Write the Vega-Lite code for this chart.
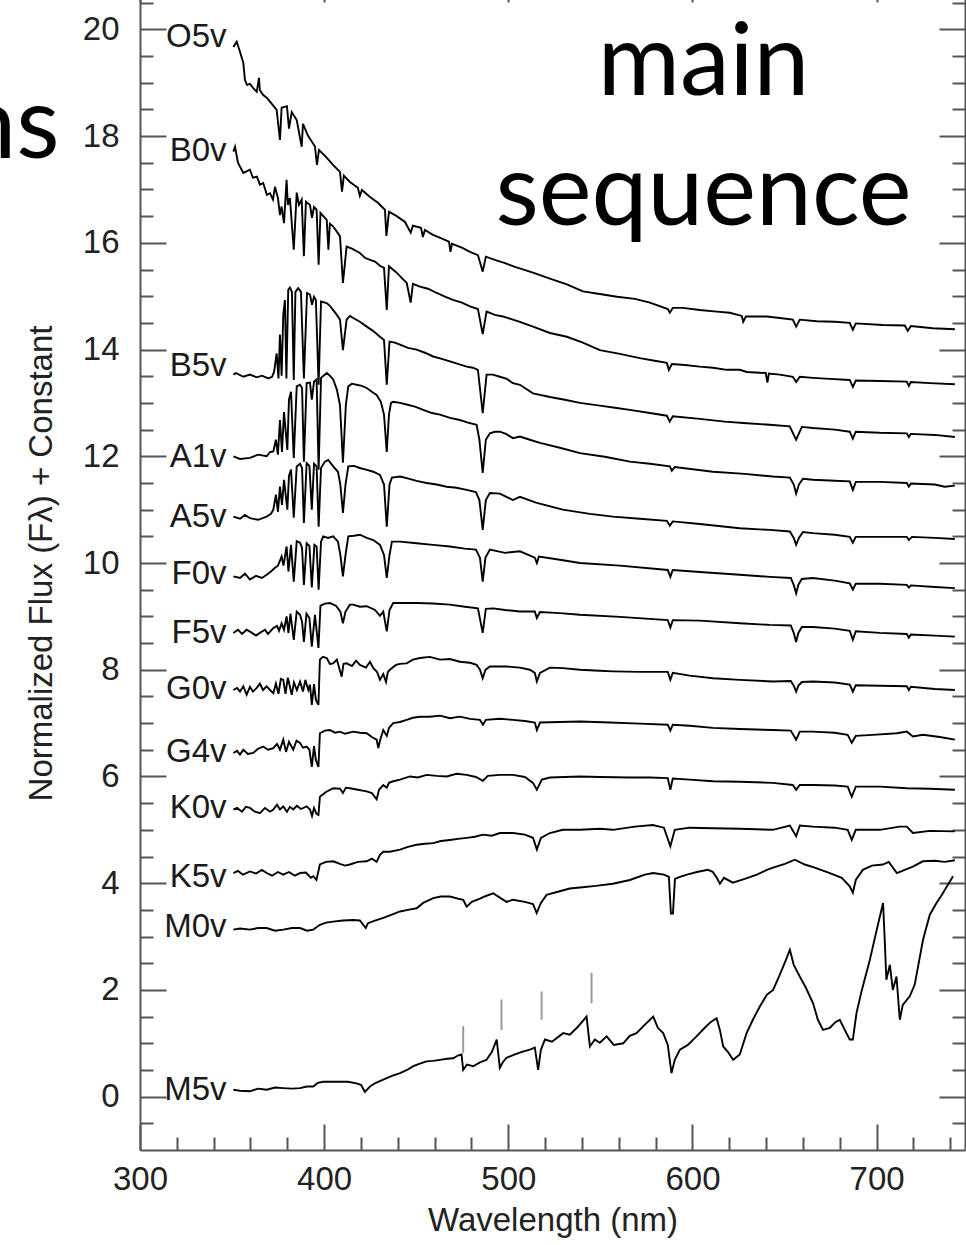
{
"$schema": "https://vega.github.io/schema/vega-lite/v6.json",
"width": 825,
"height": 1174,
"autosize": "none",
"padding": {"left": 140, "top": -24, "right": 1, "bottom": 95},
"background": "white",
"config": {
  "view": {"stroke": null},
  "axis": {"labelFont": "Liberation Sans", "titleFont": "Liberation Sans", "labelFontSize": 33, "titleFontSize": 33, "titleFontWeight": "normal", "labelColor": "#222", "titleColor": "#222", "domainColor": "#555", "domainWidth": 2, "tickColor": "#555", "tickWidth": 2, "grid": false}
},
"datasets": {
"spectra": [
{"s":"O5v","w":350.7,"f":19.67},{"s":"O5v","w":352.5,"f":19.77},{"s":"O5v","w":354.3,"f":19.58},{"s":"O5v","w":356.1,"f":19.37},{"s":"O5v","w":357.0,"f":19.05},{"s":"O5v","w":358.1,"f":18.96},{"s":"O5v","w":359.7,"f":18.98},{"s":"O5v","w":361.5,"f":18.90},{"s":"O5v","w":363.4,"f":18.83},{"s":"O5v","w":364.6,"f":19.09},{"s":"O5v","w":365.1,"f":18.86},{"s":"O5v","w":366.9,"f":18.77},{"s":"O5v","w":368.8,"f":18.72},{"s":"O5v","w":371.7,"f":18.60},{"s":"O5v","w":374.2,"f":18.49},{"s":"O5v","w":376.0,"f":17.93},{"s":"O5v","w":376.9,"f":18.53},{"s":"O5v","w":379.8,"f":18.56},{"s":"O5v","w":380.9,"f":18.14},{"s":"O5v","w":382.4,"f":18.45},{"s":"O5v","w":385.1,"f":18.30},{"s":"O5v","w":387.8,"f":17.80},{"s":"O5v","w":388.5,"f":18.23},{"s":"O5v","w":391.2,"f":18.01},{"s":"O5v","w":393.4,"f":17.89},{"s":"O5v","w":395.0,"f":17.81},{"s":"O5v","w":396.1,"f":17.46},{"s":"O5v","w":397.2,"f":17.74},{"s":"O5v","w":401.0,"f":17.61},{"s":"O5v","w":404.8,"f":17.46},{"s":"O5v","w":408.6,"f":17.33},{"s":"O5v","w":409.7,"f":16.96},{"s":"O5v","w":410.7,"f":17.26},{"s":"O5v","w":414.0,"f":17.14},{"s":"O5v","w":418.3,"f":17.03},{"s":"O5v","w":419.4,"f":16.88},{"s":"O5v","w":420.5,"f":16.99},{"s":"O5v","w":424.9,"f":16.86},{"s":"O5v","w":429.2,"f":16.75},{"s":"O5v","w":433.0,"f":16.62},{"s":"O5v","w":433.8,"f":16.13},{"s":"O5v","w":435.2,"f":16.58},{"s":"O5v","w":439.0,"f":16.51},{"s":"O5v","w":443.9,"f":16.39},{"s":"O5v","w":447.0,"f":16.19},{"s":"O5v","w":448.2,"f":16.32},{"s":"O5v","w":452.6,"f":16.28},{"s":"O5v","w":453.6,"f":16.11},{"s":"O5v","w":454.7,"f":16.24},{"s":"O5v","w":459.1,"f":16.15},{"s":"O5v","w":463.4,"f":16.09},{"s":"O5v","w":467.8,"f":16.02},{"s":"O5v","w":468.6,"f":15.83},{"s":"O5v","w":469.4,"f":15.98},{"s":"O5v","w":474.8,"f":15.91},{"s":"O5v","w":479.2,"f":15.83},{"s":"O5v","w":483.5,"f":15.77},{"s":"O5v","w":486.1,"f":15.46},{"s":"O5v","w":487.8,"f":15.74},{"s":"O5v","w":492.7,"f":15.68},{"s":"O5v","w":498.2,"f":15.62},{"s":"O5v","w":503.6,"f":15.55},{"s":"O5v","w":513.4,"f":15.44},{"s":"O5v","w":522.6,"f":15.33},{"s":"O5v","w":531.8,"f":15.22},{"s":"O5v","w":540.5,"f":15.09},{"s":"O5v","w":549.7,"f":15.04},{"s":"O5v","w":559.0,"f":14.99},{"s":"O5v","w":568.7,"f":14.95},{"s":"O5v","w":576.9,"f":14.88},{"s":"O5v","w":586.6,"f":14.76},{"s":"O5v","w":587.7,"f":14.69},{"s":"O5v","w":589.3,"f":14.78},{"s":"O5v","w":594.8,"f":14.78},{"s":"O5v","w":604.0,"f":14.74},{"s":"O5v","w":613.2,"f":14.71},{"s":"O5v","w":620.3,"f":14.69},{"s":"O5v","w":626.8,"f":14.63},{"s":"O5v","w":627.6,"f":14.52},{"s":"O5v","w":629.0,"f":14.62},{"s":"O5v","w":640.4,"f":14.62},{"s":"O5v","w":647.4,"f":14.59},{"s":"O5v","w":654.5,"f":14.56},{"s":"O5v","w":656.3,"f":14.43},{"s":"O5v","w":658.3,"f":14.56},{"s":"O5v","w":667.5,"f":14.53},{"s":"O5v","w":677.3,"f":14.52},{"s":"O5v","w":685.4,"f":14.50},{"s":"O5v","w":687.1,"f":14.37},{"s":"O5v","w":688.7,"f":14.49},{"s":"O5v","w":703.4,"f":14.46},{"s":"O5v","w":715.3,"f":14.45},{"s":"O5v","w":716.9,"f":14.35},{"s":"O5v","w":718.6,"f":14.44},{"s":"O5v","w":730.5,"f":14.40},{"s":"O5v","w":742.5,"f":14.38},
{"s":"B0v","w":350.7,"f":17.71},{"s":"B0v","w":351.6,"f":17.80},{"s":"B0v","w":353.2,"f":17.50},{"s":"B0v","w":356.1,"f":17.31},{"s":"B0v","w":359.7,"f":17.37},{"s":"B0v","w":361.3,"f":17.22},{"s":"B0v","w":363.5,"f":17.24},{"s":"B0v","w":365.1,"f":17.09},{"s":"B0v","w":366.9,"f":17.12},{"s":"B0v","w":368.9,"f":16.90},{"s":"B0v","w":370.6,"f":16.93},{"s":"B0v","w":372.2,"f":16.81},{"s":"B0v","w":373.3,"f":17.05},{"s":"B0v","w":374.9,"f":16.84},{"s":"B0v","w":376.0,"f":16.52},{"s":"B0v","w":376.9,"f":16.68},{"s":"B0v","w":378.2,"f":16.37},{"s":"B0v","w":379.6,"f":17.18},{"s":"B0v","w":380.3,"f":16.71},{"s":"B0v","w":381.4,"f":16.84},{"s":"B0v","w":383.5,"f":15.87},{"s":"B0v","w":385.1,"f":16.94},{"s":"B0v","w":386.3,"f":16.71},{"s":"B0v","w":387.8,"f":16.81},{"s":"B0v","w":389.0,"f":15.75},{"s":"B0v","w":390.1,"f":16.77},{"s":"B0v","w":392.3,"f":16.71},{"s":"B0v","w":393.4,"f":16.47},{"s":"B0v","w":394.5,"f":16.67},{"s":"B0v","w":395.9,"f":16.62},{"s":"B0v","w":397.0,"f":15.59},{"s":"B0v","w":398.0,"f":16.56},{"s":"B0v","w":401.4,"f":16.43},{"s":"B0v","w":402.3,"f":15.87},{"s":"B0v","w":403.1,"f":16.36},{"s":"B0v","w":404.8,"f":16.31},{"s":"B0v","w":406.9,"f":16.21},{"s":"B0v","w":408.6,"f":16.12},{"s":"B0v","w":410.2,"f":15.25},{"s":"B0v","w":412.2,"f":15.93},{"s":"B0v","w":415.1,"f":15.89},{"s":"B0v","w":419.4,"f":15.81},{"s":"B0v","w":422.1,"f":15.72},{"s":"B0v","w":424.9,"f":15.68},{"s":"B0v","w":427.6,"f":15.65},{"s":"B0v","w":430.3,"f":15.57},{"s":"B0v","w":432.5,"f":15.53},{"s":"B0v","w":434.0,"f":14.74},{"s":"B0v","w":435.2,"f":15.56},{"s":"B0v","w":439.4,"f":15.44},{"s":"B0v","w":442.2,"f":15.34},{"s":"B0v","w":444.8,"f":15.25},{"s":"B0v","w":447.0,"f":14.88},{"s":"B0v","w":448.2,"f":15.23},{"s":"B0v","w":452.0,"f":15.18},{"s":"B0v","w":456.4,"f":15.14},{"s":"B0v","w":461.1,"f":15.06},{"s":"B0v","w":465.6,"f":14.99},{"s":"B0v","w":469.9,"f":14.93},{"s":"B0v","w":474.8,"f":14.88},{"s":"B0v","w":479.2,"f":14.81},{"s":"B0v","w":483.5,"f":14.76},{"s":"B0v","w":486.1,"f":14.29},{"s":"B0v","w":488.2,"f":14.71},{"s":"B0v","w":492.7,"f":14.65},{"s":"B0v","w":497.1,"f":14.62},{"s":"B0v","w":502.5,"f":14.56},{"s":"B0v","w":506.3,"f":14.52},{"s":"B0v","w":513.4,"f":14.43},{"s":"B0v","w":522.6,"f":14.31},{"s":"B0v","w":531.8,"f":14.24},{"s":"B0v","w":540.5,"f":14.13},{"s":"B0v","w":549.7,"f":13.99},{"s":"B0v","w":560.6,"f":13.92},{"s":"B0v","w":571.4,"f":13.84},{"s":"B0v","w":579.5,"f":13.79},{"s":"B0v","w":586.1,"f":13.75},{"s":"B0v","w":587.2,"f":13.62},{"s":"B0v","w":588.8,"f":13.73},{"s":"B0v","w":595.8,"f":13.71},{"s":"B0v","w":604.0,"f":13.68},{"s":"B0v","w":611.1,"f":13.66},{"s":"B0v","w":618.7,"f":13.62},{"s":"B0v","w":625.7,"f":13.62},{"s":"B0v","w":629.5,"f":13.58},{"s":"B0v","w":639.8,"f":13.56},{"s":"B0v","w":640.7,"f":13.38},{"s":"B0v","w":641.5,"f":13.55},{"s":"B0v","w":647.4,"f":13.53},{"s":"B0v","w":654.5,"f":13.49},{"s":"B0v","w":656.3,"f":13.39},{"s":"B0v","w":658.3,"f":13.49},{"s":"B0v","w":665.4,"f":13.47},{"s":"B0v","w":674.6,"f":13.45},{"s":"B0v","w":685.4,"f":13.43},{"s":"B0v","w":687.1,"f":13.30},{"s":"B0v","w":688.7,"f":13.42},{"s":"B0v","w":701.7,"f":13.41},{"s":"B0v","w":716.4,"f":13.40},{"s":"B0v","w":717.5,"f":13.32},{"s":"B0v","w":718.6,"f":13.39},{"s":"B0v","w":728.9,"f":13.37},{"s":"B0v","w":742.5,"f":13.35},
{"s":"B5v","w":350.7,"f":13.53},{"s":"B5v","w":352.1,"f":13.56},{"s":"B5v","w":356.1,"f":13.49},{"s":"B5v","w":359.7,"f":13.53},{"s":"B5v","w":363.4,"f":13.48},{"s":"B5v","w":366.2,"f":13.51},{"s":"B5v","w":369.7,"f":13.46},{"s":"B5v","w":371.7,"f":13.49},{"s":"B5v","w":372.8,"f":13.58},{"s":"B5v","w":374.2,"f":13.93},{"s":"B5v","w":375.2,"f":13.46},{"s":"B5v","w":376.0,"f":14.28},{"s":"B5v","w":376.9,"f":13.51},{"s":"B5v","w":377.8,"f":14.65},{"s":"B5v","w":378.7,"f":14.93},{"s":"B5v","w":379.5,"f":13.46},{"s":"B5v","w":380.5,"f":15.12},{"s":"B5v","w":381.4,"f":15.16},{"s":"B5v","w":382.5,"f":15.08},{"s":"B5v","w":383.5,"f":13.43},{"s":"B5v","w":384.4,"f":15.08},{"s":"B5v","w":385.9,"f":15.15},{"s":"B5v","w":387.4,"f":15.08},{"s":"B5v","w":389.0,"f":13.46},{"s":"B5v","w":390.7,"f":15.06},{"s":"B5v","w":392.3,"f":15.03},{"s":"B5v","w":393.4,"f":14.84},{"s":"B5v","w":394.5,"f":14.99},{"s":"B5v","w":395.5,"f":14.93},{"s":"B5v","w":397.0,"f":13.34},{"s":"B5v","w":398.3,"f":14.90},{"s":"B5v","w":401.4,"f":14.87},{"s":"B5v","w":403.1,"f":14.82},{"s":"B5v","w":404.9,"f":14.74},{"s":"B5v","w":406.9,"f":14.65},{"s":"B5v","w":408.6,"f":14.56},{"s":"B5v","w":410.2,"f":13.99},{"s":"B5v","w":412.2,"f":14.56},{"s":"B5v","w":414.0,"f":14.63},{"s":"B5v","w":415.8,"f":14.59},{"s":"B5v","w":419.4,"f":14.52},{"s":"B5v","w":423.1,"f":14.43},{"s":"B5v","w":426.5,"f":14.35},{"s":"B5v","w":430.3,"f":14.24},{"s":"B5v","w":432.5,"f":14.18},{"s":"B5v","w":434.0,"f":13.34},{"s":"B5v","w":435.5,"f":14.15},{"s":"B5v","w":438.4,"f":14.13},{"s":"B5v","w":441.2,"f":14.09},{"s":"B5v","w":445.5,"f":14.03},{"s":"B5v","w":450.2,"f":14.00},{"s":"B5v","w":454.7,"f":13.94},{"s":"B5v","w":459.2,"f":13.87},{"s":"B5v","w":463.4,"f":13.83},{"s":"B5v","w":468.3,"f":13.78},{"s":"B5v","w":472.6,"f":13.73},{"s":"B5v","w":477.4,"f":13.68},{"s":"B5v","w":480.8,"f":13.66},{"s":"B5v","w":483.5,"f":13.62},{"s":"B5v","w":486.1,"f":12.81},{"s":"B5v","w":488.2,"f":13.53},{"s":"B5v","w":491.6,"f":13.53},{"s":"B5v","w":495.4,"f":13.49},{"s":"B5v","w":499.2,"f":13.45},{"s":"B5v","w":502.5,"f":13.37},{"s":"B5v","w":506.3,"f":13.34},{"s":"B5v","w":513.4,"f":13.18},{"s":"B5v","w":522.6,"f":13.11},{"s":"B5v","w":530.7,"f":13.06},{"s":"B5v","w":538.9,"f":13.00},{"s":"B5v","w":549.7,"f":12.95},{"s":"B5v","w":557.9,"f":12.91},{"s":"B5v","w":566.0,"f":12.87},{"s":"B5v","w":576.9,"f":12.81},{"s":"B5v","w":586.1,"f":12.76},{"s":"B5v","w":587.7,"f":12.65},{"s":"B5v","w":589.3,"f":12.75},{"s":"B5v","w":604.0,"f":12.70},{"s":"B5v","w":617.5,"f":12.65},{"s":"B5v","w":629.5,"f":12.62},{"s":"B5v","w":642.0,"f":12.59},{"s":"B5v","w":652.8,"f":12.56},{"s":"B5v","w":656.3,"f":12.31},{"s":"B5v","w":659.4,"f":12.55},{"s":"B5v","w":665.4,"f":12.53},{"s":"B5v","w":677.3,"f":12.50},{"s":"B5v","w":685.4,"f":12.46},{"s":"B5v","w":687.1,"f":12.33},{"s":"B5v","w":688.7,"f":12.46},{"s":"B5v","w":701.7,"f":12.44},{"s":"B5v","w":716.4,"f":12.43},{"s":"B5v","w":717.5,"f":12.36},{"s":"B5v","w":718.6,"f":12.42},{"s":"B5v","w":731.6,"f":12.40},{"s":"B5v","w":742.5,"f":12.36},
{"s":"A1v","w":350.7,"f":12.00},{"s":"A1v","w":354.3,"f":11.95},{"s":"A1v","w":359.7,"f":11.97},{"s":"A1v","w":364.1,"f":12.03},{"s":"A1v","w":368.8,"f":12.00},{"s":"A1v","w":370.6,"f":12.08},{"s":"A1v","w":372.4,"f":12.09},{"s":"A1v","w":373.8,"f":12.31},{"s":"A1v","w":374.9,"f":12.03},{"s":"A1v","w":376.0,"f":12.68},{"s":"A1v","w":377.1,"f":12.08},{"s":"A1v","w":378.2,"f":12.83},{"s":"A1v","w":380.0,"f":12.12},{"s":"A1v","w":380.9,"f":13.06},{"s":"A1v","w":382.0,"f":13.21},{"s":"A1v","w":383.5,"f":11.97},{"s":"A1v","w":385.1,"f":13.31},{"s":"A1v","w":386.9,"f":13.34},{"s":"A1v","w":388.0,"f":13.28},{"s":"A1v","w":389.0,"f":11.90},{"s":"A1v","w":390.5,"f":13.37},{"s":"A1v","w":392.3,"f":13.38},{"s":"A1v","w":393.3,"f":13.06},{"s":"A1v","w":394.5,"f":13.40},{"s":"A1v","w":395.9,"f":13.44},{"s":"A1v","w":397.0,"f":11.75},{"s":"A1v","w":398.3,"f":13.47},{"s":"A1v","w":401.4,"f":13.56},{"s":"A1v","w":403.1,"f":13.51},{"s":"A1v","w":404.9,"f":13.44},{"s":"A1v","w":406.9,"f":13.25},{"s":"A1v","w":408.6,"f":12.96},{"s":"A1v","w":410.2,"f":11.88},{"s":"A1v","w":411.8,"f":12.97},{"s":"A1v","w":413.1,"f":13.31},{"s":"A1v","w":415.1,"f":13.36},{"s":"A1v","w":417.6,"f":13.34},{"s":"A1v","w":420.5,"f":13.32},{"s":"A1v","w":423.1,"f":13.28},{"s":"A1v","w":425.9,"f":13.21},{"s":"A1v","w":428.5,"f":13.15},{"s":"A1v","w":430.8,"f":13.02},{"s":"A1v","w":432.5,"f":12.78},{"s":"A1v","w":434.0,"f":12.08},{"s":"A1v","w":435.2,"f":12.78},{"s":"A1v","w":436.3,"f":13.00},{"s":"A1v","w":437.5,"f":13.02},{"s":"A1v","w":441.2,"f":13.00},{"s":"A1v","w":444.8,"f":12.97},{"s":"A1v","w":449.3,"f":12.93},{"s":"A1v","w":453.8,"f":12.87},{"s":"A1v","w":458.5,"f":12.81},{"s":"A1v","w":462.9,"f":12.78},{"s":"A1v","w":468.3,"f":12.72},{"s":"A1v","w":473.7,"f":12.68},{"s":"A1v","w":478.1,"f":12.63},{"s":"A1v","w":482.8,"f":12.59},{"s":"A1v","w":484.3,"f":12.31},{"s":"A1v","w":486.1,"f":11.69},{"s":"A1v","w":487.8,"f":12.31},{"s":"A1v","w":490.0,"f":12.43},{"s":"A1v","w":492.7,"f":12.46},{"s":"A1v","w":495.4,"f":12.46},{"s":"A1v","w":498.7,"f":12.42},{"s":"A1v","w":502.5,"f":12.34},{"s":"A1v","w":506.3,"f":12.37},{"s":"A1v","w":511.7,"f":12.31},{"s":"A1v","w":517.2,"f":12.25},{"s":"A1v","w":528.0,"f":12.16},{"s":"A1v","w":538.9,"f":12.06},{"s":"A1v","w":552.4,"f":11.99},{"s":"A1v","w":566.0,"f":11.90},{"s":"A1v","w":576.9,"f":11.86},{"s":"A1v","w":587.7,"f":11.81},{"s":"A1v","w":588.8,"f":11.73},{"s":"A1v","w":590.4,"f":11.80},{"s":"A1v","w":611.1,"f":11.71},{"s":"A1v","w":628.4,"f":11.67},{"s":"A1v","w":643.6,"f":11.62},{"s":"A1v","w":652.9,"f":11.60},{"s":"A1v","w":655.0,"f":11.47},{"s":"A1v","w":656.3,"f":11.30},{"s":"A1v","w":657.8,"f":11.47},{"s":"A1v","w":660.0,"f":11.58},{"s":"A1v","w":665.4,"f":11.56},{"s":"A1v","w":677.3,"f":11.54},{"s":"A1v","w":685.4,"f":11.53},{"s":"A1v","w":687.1,"f":11.37},{"s":"A1v","w":688.7,"f":11.52},{"s":"A1v","w":701.7,"f":11.52},{"s":"A1v","w":716.4,"f":11.50},{"s":"A1v","w":717.5,"f":11.43},{"s":"A1v","w":718.6,"f":11.49},{"s":"A1v","w":731.6,"f":11.47},{"s":"A1v","w":737.0,"f":11.43},{"s":"A1v","w":742.5,"f":11.45},
{"s":"A5v","w":350.7,"f":10.87},{"s":"A5v","w":354.3,"f":10.83},{"s":"A5v","w":357.0,"f":10.90},{"s":"A5v","w":359.7,"f":10.84},{"s":"A5v","w":364.1,"f":10.81},{"s":"A5v","w":368.8,"f":10.87},{"s":"A5v","w":371.1,"f":10.92},{"s":"A5v","w":372.4,"f":11.00},{"s":"A5v","w":373.8,"f":11.28},{"s":"A5v","w":374.9,"f":10.96},{"s":"A5v","w":376.0,"f":11.43},{"s":"A5v","w":377.1,"f":11.09},{"s":"A5v","w":378.2,"f":11.56},{"s":"A5v","w":380.0,"f":11.00},{"s":"A5v","w":380.9,"f":11.63},{"s":"A5v","w":382.0,"f":11.75},{"s":"A5v","w":383.5,"f":10.85},{"s":"A5v","w":385.1,"f":11.81},{"s":"A5v","w":386.9,"f":11.86},{"s":"A5v","w":388.0,"f":11.78},{"s":"A5v","w":389.0,"f":10.75},{"s":"A5v","w":390.5,"f":11.87},{"s":"A5v","w":392.0,"f":11.82},{"s":"A5v","w":393.3,"f":11.00},{"s":"A5v","w":394.5,"f":11.86},{"s":"A5v","w":395.9,"f":11.81},{"s":"A5v","w":397.0,"f":10.68},{"s":"A5v","w":398.3,"f":11.78},{"s":"A5v","w":400.4,"f":11.90},{"s":"A5v","w":402.2,"f":11.93},{"s":"A5v","w":404.9,"f":11.81},{"s":"A5v","w":407.5,"f":11.71},{"s":"A5v","w":408.8,"f":11.47},{"s":"A5v","w":410.2,"f":10.94},{"s":"A5v","w":411.6,"f":11.47},{"s":"A5v","w":413.1,"f":11.81},{"s":"A5v","w":416.2,"f":11.82},{"s":"A5v","w":419.4,"f":11.78},{"s":"A5v","w":422.7,"f":11.75},{"s":"A5v","w":426.7,"f":11.71},{"s":"A5v","w":430.3,"f":11.65},{"s":"A5v","w":432.5,"f":11.47},{"s":"A5v","w":434.0,"f":10.68},{"s":"A5v","w":435.5,"f":11.47},{"s":"A5v","w":436.8,"f":11.60},{"s":"A5v","w":441.2,"f":11.62},{"s":"A5v","w":444.8,"f":11.59},{"s":"A5v","w":450.2,"f":11.54},{"s":"A5v","w":455.6,"f":11.50},{"s":"A5v","w":461.1,"f":11.47},{"s":"A5v","w":466.5,"f":11.43},{"s":"A5v","w":471.9,"f":11.41},{"s":"A5v","w":477.4,"f":11.37},{"s":"A5v","w":482.4,"f":11.33},{"s":"A5v","w":484.3,"f":11.18},{"s":"A5v","w":486.1,"f":10.62},{"s":"A5v","w":487.8,"f":11.18},{"s":"A5v","w":490.0,"f":11.31},{"s":"A5v","w":495.4,"f":11.30},{"s":"A5v","w":502.5,"f":11.18},{"s":"A5v","w":506.3,"f":11.24},{"s":"A5v","w":515.0,"f":11.13},{"s":"A5v","w":529.6,"f":11.00},{"s":"A5v","w":544.3,"f":10.92},{"s":"A5v","w":556.8,"f":10.87},{"s":"A5v","w":571.4,"f":10.83},{"s":"A5v","w":586.1,"f":10.79},{"s":"A5v","w":587.7,"f":10.70},{"s":"A5v","w":589.3,"f":10.78},{"s":"A5v","w":604.0,"f":10.73},{"s":"A5v","w":625.7,"f":10.65},{"s":"A5v","w":642.0,"f":10.62},{"s":"A5v","w":652.9,"f":10.59},{"s":"A5v","w":655.0,"f":10.47},{"s":"A5v","w":656.3,"f":10.34},{"s":"A5v","w":657.8,"f":10.47},{"s":"A5v","w":660.0,"f":10.58},{"s":"A5v","w":665.4,"f":10.56},{"s":"A5v","w":677.3,"f":10.53},{"s":"A5v","w":685.4,"f":10.49},{"s":"A5v","w":687.1,"f":10.38},{"s":"A5v","w":688.7,"f":10.49},{"s":"A5v","w":701.7,"f":10.49},{"s":"A5v","w":716.4,"f":10.49},{"s":"A5v","w":717.5,"f":10.43},{"s":"A5v","w":719.2,"f":10.49},{"s":"A5v","w":731.6,"f":10.47},{"s":"A5v","w":742.5,"f":10.45},
{"s":"F0v","w":350.7,"f":9.75},{"s":"F0v","w":354.3,"f":9.72},{"s":"F0v","w":357.0,"f":9.80},{"s":"F0v","w":359.7,"f":9.69},{"s":"F0v","w":363.0,"f":9.76},{"s":"F0v","w":366.2,"f":9.72},{"s":"F0v","w":368.8,"f":9.78},{"s":"F0v","w":371.1,"f":9.84},{"s":"F0v","w":373.3,"f":9.91},{"s":"F0v","w":374.9,"f":9.95},{"s":"F0v","w":376.9,"f":10.12},{"s":"F0v","w":377.9,"f":9.95},{"s":"F0v","w":379.6,"f":10.31},{"s":"F0v","w":380.6,"f":9.84},{"s":"F0v","w":382.0,"f":10.34},{"s":"F0v","w":383.5,"f":9.65},{"s":"F0v","w":385.1,"f":10.41},{"s":"F0v","w":386.9,"f":10.38},{"s":"F0v","w":388.0,"f":10.28},{"s":"F0v","w":389.0,"f":9.59},{"s":"F0v","w":390.5,"f":10.37},{"s":"F0v","w":392.0,"f":10.32},{"s":"F0v","w":393.3,"f":9.54},{"s":"F0v","w":394.7,"f":10.34},{"s":"F0v","w":395.9,"f":10.31},{"s":"F0v","w":397.0,"f":9.50},{"s":"F0v","w":398.3,"f":10.40},{"s":"F0v","w":399.5,"f":10.50},{"s":"F0v","w":402.1,"f":10.47},{"s":"F0v","w":404.9,"f":10.50},{"s":"F0v","w":407.5,"f":10.40},{"s":"F0v","w":408.8,"f":10.15},{"s":"F0v","w":410.2,"f":9.75},{"s":"F0v","w":411.6,"f":10.15},{"s":"F0v","w":413.1,"f":10.50},{"s":"F0v","w":416.2,"f":10.51},{"s":"F0v","w":419.4,"f":10.53},{"s":"F0v","w":423.1,"f":10.47},{"s":"F0v","w":426.7,"f":10.43},{"s":"F0v","w":430.3,"f":10.34},{"s":"F0v","w":432.5,"f":10.15},{"s":"F0v","w":434.0,"f":9.72},{"s":"F0v","w":435.5,"f":10.15},{"s":"F0v","w":436.8,"f":10.40},{"s":"F0v","w":441.2,"f":10.40},{"s":"F0v","w":450.2,"f":10.37},{"s":"F0v","w":459.1,"f":10.34},{"s":"F0v","w":468.3,"f":10.31},{"s":"F0v","w":476.4,"f":10.27},{"s":"F0v","w":482.4,"f":10.25},{"s":"F0v","w":484.6,"f":10.10},{"s":"F0v","w":486.1,"f":9.65},{"s":"F0v","w":487.6,"f":10.10},{"s":"F0v","w":490.0,"f":10.25},{"s":"F0v","w":498.2,"f":10.19},{"s":"F0v","w":506.3,"f":10.22},{"s":"F0v","w":514.4,"f":10.10},{"s":"F0v","w":515.5,"f":10.00},{"s":"F0v","w":516.6,"f":10.12},{"s":"F0v","w":528.0,"f":10.06},{"s":"F0v","w":538.9,"f":10.00},{"s":"F0v","w":560.6,"f":9.95},{"s":"F0v","w":586.6,"f":9.87},{"s":"F0v","w":588.0,"f":9.74},{"s":"F0v","w":589.3,"f":9.87},{"s":"F0v","w":604.0,"f":9.83},{"s":"F0v","w":625.7,"f":9.78},{"s":"F0v","w":642.0,"f":9.74},{"s":"F0v","w":653.4,"f":9.72},{"s":"F0v","w":655.0,"f":9.59},{"s":"F0v","w":656.3,"f":9.43},{"s":"F0v","w":657.5,"f":9.59},{"s":"F0v","w":659.4,"f":9.70},{"s":"F0v","w":665.4,"f":9.72},{"s":"F0v","w":677.3,"f":9.67},{"s":"F0v","w":685.4,"f":9.62},{"s":"F0v","w":687.1,"f":9.50},{"s":"F0v","w":688.7,"f":9.61},{"s":"F0v","w":701.7,"f":9.61},{"s":"F0v","w":716.4,"f":9.59},{"s":"F0v","w":717.5,"f":9.54},{"s":"F0v","w":718.6,"f":9.58},{"s":"F0v","w":731.6,"f":9.55},{"s":"F0v","w":742.5,"f":9.53},
{"s":"F5v","w":350.7,"f":8.69},{"s":"F5v","w":353.2,"f":8.75},{"s":"F5v","w":355.4,"f":8.67},{"s":"F5v","w":357.9,"f":8.75},{"s":"F5v","w":360.8,"f":8.69},{"s":"F5v","w":363.0,"f":8.64},{"s":"F5v","w":365.1,"f":8.69},{"s":"F5v","w":367.9,"f":8.75},{"s":"F5v","w":369.5,"f":8.67},{"s":"F5v","w":372.4,"f":8.78},{"s":"F5v","w":374.4,"f":8.82},{"s":"F5v","w":375.5,"f":8.73},{"s":"F5v","w":376.9,"f":8.87},{"s":"F5v","w":378.2,"f":8.75},{"s":"F5v","w":379.6,"f":9.00},{"s":"F5v","w":380.6,"f":8.69},{"s":"F5v","w":381.7,"f":9.05},{"s":"F5v","w":383.5,"f":8.56},{"s":"F5v","w":385.1,"f":9.09},{"s":"F5v","w":386.9,"f":9.03},{"s":"F5v","w":388.0,"f":8.90},{"s":"F5v","w":389.0,"f":8.52},{"s":"F5v","w":390.4,"f":9.05},{"s":"F5v","w":392.0,"f":8.97},{"s":"F5v","w":393.3,"f":8.43},{"s":"F5v","w":395.0,"f":9.03},{"s":"F5v","w":396.9,"f":8.41},{"s":"F5v","w":398.0,"f":9.20},{"s":"F5v","w":400.4,"f":9.24},{"s":"F5v","w":403.1,"f":9.25},{"s":"F5v","w":406.4,"f":9.20},{"s":"F5v","w":408.8,"f":9.09},{"s":"F5v","w":410.2,"f":8.87},{"s":"F5v","w":411.6,"f":9.09},{"s":"F5v","w":414.0,"f":9.22},{"s":"F5v","w":415.8,"f":9.22},{"s":"F5v","w":419.4,"f":9.18},{"s":"F5v","w":423.1,"f":9.19},{"s":"F5v","w":427.6,"f":9.12},{"s":"F5v","w":430.3,"f":9.01},{"s":"F5v","w":432.1,"f":9.09},{"s":"F5v","w":434.0,"f":8.72},{"s":"F5v","w":435.5,"f":9.12},{"s":"F5v","w":437.5,"f":9.25},{"s":"F5v","w":443.9,"f":9.25},{"s":"F5v","w":450.2,"f":9.25},{"s":"F5v","w":459.1,"f":9.24},{"s":"F5v","w":468.3,"f":9.22},{"s":"F5v","w":476.4,"f":9.18},{"s":"F5v","w":483.5,"f":9.15},{"s":"F5v","w":486.1,"f":8.69},{"s":"F5v","w":487.8,"f":9.14},{"s":"F5v","w":491.8,"f":9.15},{"s":"F5v","w":498.2,"f":9.12},{"s":"F5v","w":506.3,"f":9.09},{"s":"F5v","w":514.4,"f":9.09},{"s":"F5v","w":515.5,"f":8.97},{"s":"F5v","w":517.2,"f":9.08},{"s":"F5v","w":528.0,"f":9.06},{"s":"F5v","w":538.9,"f":9.03},{"s":"F5v","w":560.6,"f":8.99},{"s":"F5v","w":586.6,"f":8.93},{"s":"F5v","w":588.0,"f":8.79},{"s":"F5v","w":589.3,"f":8.93},{"s":"F5v","w":604.0,"f":8.92},{"s":"F5v","w":625.7,"f":8.87},{"s":"F5v","w":642.0,"f":8.84},{"s":"F5v","w":653.4,"f":8.83},{"s":"F5v","w":655.0,"f":8.69},{"s":"F5v","w":656.3,"f":8.52},{"s":"F5v","w":657.5,"f":8.69},{"s":"F5v","w":659.4,"f":8.80},{"s":"F5v","w":665.4,"f":8.80},{"s":"F5v","w":677.3,"f":8.77},{"s":"F5v","w":685.4,"f":8.73},{"s":"F5v","w":687.1,"f":8.56},{"s":"F5v","w":688.7,"f":8.72},{"s":"F5v","w":701.7,"f":8.69},{"s":"F5v","w":716.4,"f":8.67},{"s":"F5v","w":717.5,"f":8.60},{"s":"F5v","w":718.6,"f":8.66},{"s":"F5v","w":731.6,"f":8.64},{"s":"F5v","w":742.5,"f":8.62},
{"s":"G0v","w":350.7,"f":7.62},{"s":"G0v","w":352.7,"f":7.66},{"s":"G0v","w":354.3,"f":7.59},{"s":"G0v","w":356.1,"f":7.69},{"s":"G0v","w":357.9,"f":7.53},{"s":"G0v","w":359.7,"f":7.68},{"s":"G0v","w":361.3,"f":7.59},{"s":"G0v","w":363.4,"f":7.66},{"s":"G0v","w":365.1,"f":7.74},{"s":"G0v","w":366.8,"f":7.62},{"s":"G0v","w":368.8,"f":7.69},{"s":"G0v","w":370.6,"f":7.62},{"s":"G0v","w":372.4,"f":7.56},{"s":"G0v","w":373.8,"f":7.74},{"s":"G0v","w":375.2,"f":7.55},{"s":"G0v","w":376.5,"f":7.83},{"s":"G0v","w":377.8,"f":7.81},{"s":"G0v","w":379.0,"f":7.55},{"s":"G0v","w":380.3,"f":7.85},{"s":"G0v","w":382.4,"f":7.53},{"s":"G0v","w":383.6,"f":7.76},{"s":"G0v","w":385.2,"f":7.62},{"s":"G0v","w":386.9,"f":7.78},{"s":"G0v","w":388.5,"f":7.59},{"s":"G0v","w":389.8,"f":7.81},{"s":"G0v","w":391.4,"f":7.62},{"s":"G0v","w":392.3,"f":7.72},{"s":"G0v","w":393.3,"f":7.34},{"s":"G0v","w":394.5,"f":7.73},{"s":"G0v","w":395.5,"f":7.44},{"s":"G0v","w":396.9,"f":7.34},{"s":"G0v","w":397.7,"f":8.19},{"s":"G0v","w":399.3,"f":8.24},{"s":"G0v","w":401.4,"f":8.22},{"s":"G0v","w":403.1,"f":8.11},{"s":"G0v","w":404.9,"f":8.12},{"s":"G0v","w":406.9,"f":8.19},{"s":"G0v","w":409.5,"f":7.87},{"s":"G0v","w":410.5,"f":8.11},{"s":"G0v","w":412.2,"f":8.12},{"s":"G0v","w":415.1,"f":8.07},{"s":"G0v","w":417.3,"f":8.17},{"s":"G0v","w":419.4,"f":8.09},{"s":"G0v","w":422.7,"f":8.04},{"s":"G0v","w":424.9,"f":8.15},{"s":"G0v","w":426.7,"f":8.03},{"s":"G0v","w":428.7,"f":7.96},{"s":"G0v","w":430.3,"f":7.81},{"s":"G0v","w":432.1,"f":7.92},{"s":"G0v","w":433.6,"f":7.77},{"s":"G0v","w":434.6,"f":7.96},{"s":"G0v","w":435.7,"f":8.00},{"s":"G0v","w":439.0,"f":8.09},{"s":"G0v","w":441.2,"f":8.11},{"s":"G0v","w":444.8,"f":8.12},{"s":"G0v","w":448.2,"f":8.19},{"s":"G0v","w":452.0,"f":8.22},{"s":"G0v","w":457.4,"f":8.24},{"s":"G0v","w":462.9,"f":8.19},{"s":"G0v","w":468.3,"f":8.20},{"s":"G0v","w":473.7,"f":8.15},{"s":"G0v","w":479.2,"f":8.13},{"s":"G0v","w":482.8,"f":8.09},{"s":"G0v","w":484.6,"f":8.00},{"s":"G0v","w":486.1,"f":7.84},{"s":"G0v","w":487.6,"f":8.00},{"s":"G0v","w":490.0,"f":8.06},{"s":"G0v","w":495.4,"f":8.06},{"s":"G0v","w":499.1,"f":8.06},{"s":"G0v","w":506.3,"f":8.04},{"s":"G0v","w":511.7,"f":8.00},{"s":"G0v","w":514.4,"f":7.94},{"s":"G0v","w":515.5,"f":7.78},{"s":"G0v","w":517.2,"f":7.94},{"s":"G0v","w":522.6,"f":8.04},{"s":"G0v","w":529.6,"f":8.03},{"s":"G0v","w":538.9,"f":8.00},{"s":"G0v","w":549.7,"f":7.98},{"s":"G0v","w":556.8,"f":7.97},{"s":"G0v","w":571.4,"f":7.96},{"s":"G0v","w":586.6,"f":7.96},{"s":"G0v","w":588.0,"f":7.81},{"s":"G0v","w":589.3,"f":7.94},{"s":"G0v","w":598.5,"f":7.89},{"s":"G0v","w":611.1,"f":7.84},{"s":"G0v","w":625.7,"f":7.81},{"s":"G0v","w":643.6,"f":7.78},{"s":"G0v","w":653.4,"f":7.79},{"s":"G0v","w":655.0,"f":7.70},{"s":"G0v","w":656.3,"f":7.59},{"s":"G0v","w":657.5,"f":7.70},{"s":"G0v","w":659.4,"f":7.77},{"s":"G0v","w":665.4,"f":7.78},{"s":"G0v","w":677.3,"f":7.76},{"s":"G0v","w":685.4,"f":7.72},{"s":"G0v","w":687.1,"f":7.59},{"s":"G0v","w":688.7,"f":7.71},{"s":"G0v","w":701.7,"f":7.70},{"s":"G0v","w":716.4,"f":7.69},{"s":"G0v","w":717.5,"f":7.62},{"s":"G0v","w":718.6,"f":7.68},{"s":"G0v","w":731.6,"f":7.64},{"s":"G0v","w":742.5,"f":7.62},
{"s":"G4v","w":350.7,"f":6.44},{"s":"G4v","w":352.7,"f":6.48},{"s":"G4v","w":354.3,"f":6.41},{"s":"G4v","w":356.1,"f":6.50},{"s":"G4v","w":358.6,"f":6.42},{"s":"G4v","w":361.5,"f":6.44},{"s":"G4v","w":364.1,"f":6.52},{"s":"G4v","w":366.9,"f":6.56},{"s":"G4v","w":369.5,"f":6.50},{"s":"G4v","w":372.4,"f":6.53},{"s":"G4v","w":374.4,"f":6.61},{"s":"G4v","w":376.0,"f":6.50},{"s":"G4v","w":377.8,"f":6.69},{"s":"G4v","w":379.3,"f":6.46},{"s":"G4v","w":380.9,"f":6.65},{"s":"G4v","w":383.2,"f":6.50},{"s":"G4v","w":385.0,"f":6.67},{"s":"G4v","w":386.9,"f":6.63},{"s":"G4v","w":388.5,"f":6.54},{"s":"G4v","w":390.5,"f":6.56},{"s":"G4v","w":392.0,"f":6.50},{"s":"G4v","w":393.3,"f":6.18},{"s":"G4v","w":394.5,"f":6.57},{"s":"G4v","w":395.5,"f":6.31},{"s":"G4v","w":396.9,"f":6.18},{"s":"G4v","w":397.7,"f":6.81},{"s":"G4v","w":400.4,"f":6.86},{"s":"G4v","w":403.1,"f":6.87},{"s":"G4v","w":405.9,"f":6.82},{"s":"G4v","w":408.6,"f":6.84},{"s":"G4v","w":411.3,"f":6.80},{"s":"G4v","w":415.8,"f":6.84},{"s":"G4v","w":419.4,"f":6.82},{"s":"G4v","w":423.1,"f":6.81},{"s":"G4v","w":425.9,"f":6.74},{"s":"G4v","w":428.5,"f":6.69},{"s":"G4v","w":429.4,"f":6.53},{"s":"G4v","w":430.3,"f":6.67},{"s":"G4v","w":432.1,"f":6.87},{"s":"G4v","w":434.0,"f":6.76},{"s":"G4v","w":435.2,"f":6.91},{"s":"G4v","w":437.5,"f":7.00},{"s":"G4v","w":441.2,"f":7.02},{"s":"G4v","w":444.8,"f":7.06},{"s":"G4v","w":448.2,"f":7.10},{"s":"G4v","w":452.0,"f":7.12},{"s":"G4v","w":457.4,"f":7.12},{"s":"G4v","w":462.9,"f":7.14},{"s":"G4v","w":468.3,"f":7.09},{"s":"G4v","w":473.7,"f":7.12},{"s":"G4v","w":479.2,"f":7.08},{"s":"G4v","w":484.6,"f":7.06},{"s":"G4v","w":486.2,"f":6.97},{"s":"G4v","w":487.8,"f":7.06},{"s":"G4v","w":495.4,"f":7.08},{"s":"G4v","w":502.5,"f":7.06},{"s":"G4v","w":509.0,"f":7.04},{"s":"G4v","w":514.4,"f":7.01},{"s":"G4v","w":515.5,"f":6.87},{"s":"G4v","w":517.2,"f":7.01},{"s":"G4v","w":528.0,"f":7.02},{"s":"G4v","w":538.9,"f":7.03},{"s":"G4v","w":555.2,"f":7.01},{"s":"G4v","w":571.4,"f":6.99},{"s":"G4v","w":586.6,"f":6.97},{"s":"G4v","w":588.0,"f":6.86},{"s":"G4v","w":589.3,"f":6.97},{"s":"G4v","w":598.5,"f":6.95},{"s":"G4v","w":611.1,"f":6.91},{"s":"G4v","w":625.7,"f":6.89},{"s":"G4v","w":643.6,"f":6.87},{"s":"G4v","w":653.4,"f":6.86},{"s":"G4v","w":656.3,"f":6.69},{"s":"G4v","w":658.3,"f":6.84},{"s":"G4v","w":665.4,"f":6.84},{"s":"G4v","w":677.3,"f":6.82},{"s":"G4v","w":684.3,"f":6.78},{"s":"G4v","w":686.5,"f":6.63},{"s":"G4v","w":688.7,"f":6.76},{"s":"G4v","w":697.9,"f":6.78},{"s":"G4v","w":711.0,"f":6.81},{"s":"G4v","w":716.4,"f":6.84},{"s":"G4v","w":719.7,"f":6.75},{"s":"G4v","w":725.1,"f":6.78},{"s":"G4v","w":734.3,"f":6.74},{"s":"G4v","w":742.5,"f":6.69},
{"s":"K0v","w":350.7,"f":5.38},{"s":"K0v","w":352.7,"f":5.41},{"s":"K0v","w":355.4,"f":5.34},{"s":"K0v","w":357.5,"f":5.43},{"s":"K0v","w":359.7,"f":5.41},{"s":"K0v","w":362.4,"f":5.34},{"s":"K0v","w":365.1,"f":5.31},{"s":"K0v","w":367.9,"f":5.41},{"s":"K0v","w":370.6,"f":5.34},{"s":"K0v","w":372.4,"f":5.38},{"s":"K0v","w":374.4,"f":5.47},{"s":"K0v","w":376.0,"f":5.38},{"s":"K0v","w":377.8,"f":5.44},{"s":"K0v","w":379.8,"f":5.34},{"s":"K0v","w":381.4,"f":5.43},{"s":"K0v","w":383.2,"f":5.38},{"s":"K0v","w":385.2,"f":5.45},{"s":"K0v","w":387.4,"f":5.39},{"s":"K0v","w":390.5,"f":5.44},{"s":"K0v","w":392.3,"f":5.38},{"s":"K0v","w":393.4,"f":5.26},{"s":"K0v","w":394.5,"f":5.41},{"s":"K0v","w":395.8,"f":5.30},{"s":"K0v","w":396.9,"f":5.28},{"s":"K0v","w":397.7,"f":5.62},{"s":"K0v","w":401.0,"f":5.71},{"s":"K0v","w":404.9,"f":5.78},{"s":"K0v","w":408.6,"f":5.77},{"s":"K0v","w":410.2,"f":5.69},{"s":"K0v","w":411.8,"f":5.79},{"s":"K0v","w":414.0,"f":5.78},{"s":"K0v","w":418.3,"f":5.75},{"s":"K0v","w":423.1,"f":5.72},{"s":"K0v","w":425.9,"f":5.69},{"s":"K0v","w":428.5,"f":5.57},{"s":"K0v","w":429.8,"f":5.75},{"s":"K0v","w":432.1,"f":5.84},{"s":"K0v","w":434.0,"f":5.79},{"s":"K0v","w":435.2,"f":5.88},{"s":"K0v","w":437.5,"f":5.91},{"s":"K0v","w":441.2,"f":5.94},{"s":"K0v","w":446.6,"f":6.00},{"s":"K0v","w":450.9,"f":5.98},{"s":"K0v","w":455.6,"f":6.03},{"s":"K0v","w":461.1,"f":6.01},{"s":"K0v","w":466.5,"f":6.00},{"s":"K0v","w":471.9,"f":6.05},{"s":"K0v","w":477.4,"f":6.03},{"s":"K0v","w":482.4,"f":5.99},{"s":"K0v","w":486.2,"f":5.92},{"s":"K0v","w":488.9,"f":6.01},{"s":"K0v","w":495.4,"f":6.03},{"s":"K0v","w":502.5,"f":6.03},{"s":"K0v","w":509.0,"f":5.99},{"s":"K0v","w":513.4,"f":5.88},{"s":"K0v","w":515.5,"f":5.75},{"s":"K0v","w":518.2,"f":5.94},{"s":"K0v","w":522.6,"f":5.98},{"s":"K0v","w":530.7,"f":5.99},{"s":"K0v","w":538.9,"f":6.00},{"s":"K0v","w":549.7,"f":5.99},{"s":"K0v","w":566.0,"f":5.98},{"s":"K0v","w":576.9,"f":5.98},{"s":"K0v","w":586.6,"f":5.97},{"s":"K0v","w":588.0,"f":5.75},{"s":"K0v","w":589.3,"f":5.96},{"s":"K0v","w":598.5,"f":5.94},{"s":"K0v","w":611.1,"f":5.91},{"s":"K0v","w":625.7,"f":5.90},{"s":"K0v","w":643.6,"f":5.88},{"s":"K0v","w":654.5,"f":5.84},{"s":"K0v","w":656.3,"f":5.75},{"s":"K0v","w":658.3,"f":5.84},{"s":"K0v","w":665.4,"f":5.84},{"s":"K0v","w":677.3,"f":5.83},{"s":"K0v","w":684.3,"f":5.81},{"s":"K0v","w":686.5,"f":5.62},{"s":"K0v","w":688.7,"f":5.81},{"s":"K0v","w":701.7,"f":5.81},{"s":"K0v","w":716.4,"f":5.78},{"s":"K0v","w":728.9,"f":5.77},{"s":"K0v","w":742.5,"f":5.75},
{"s":"K5v","w":350.7,"f":4.19},{"s":"K5v","w":353.2,"f":4.23},{"s":"K5v","w":355.9,"f":4.16},{"s":"K5v","w":359.7,"f":4.22},{"s":"K5v","w":363.0,"f":4.18},{"s":"K5v","w":366.2,"f":4.25},{"s":"K5v","w":368.8,"f":4.19},{"s":"K5v","w":371.7,"f":4.14},{"s":"K5v","w":374.9,"f":4.21},{"s":"K5v","w":377.8,"f":4.16},{"s":"K5v","w":380.9,"f":4.21},{"s":"K5v","w":384.1,"f":4.14},{"s":"K5v","w":386.9,"f":4.19},{"s":"K5v","w":390.1,"f":4.20},{"s":"K5v","w":392.8,"f":4.10},{"s":"K5v","w":394.1,"f":4.13},{"s":"K5v","w":395.8,"f":4.06},{"s":"K5v","w":397.7,"f":4.35},{"s":"K5v","w":401.0,"f":4.40},{"s":"K5v","w":404.9,"f":4.41},{"s":"K5v","w":408.6,"f":4.36},{"s":"K5v","w":411.3,"f":4.33},{"s":"K5v","w":414.0,"f":4.35},{"s":"K5v","w":418.3,"f":4.40},{"s":"K5v","w":423.1,"f":4.41},{"s":"K5v","w":425.9,"f":4.46},{"s":"K5v","w":428.5,"f":4.40},{"s":"K5v","w":430.3,"f":4.53},{"s":"K5v","w":432.1,"f":4.59},{"s":"K5v","w":435.7,"f":4.59},{"s":"K5v","w":441.2,"f":4.63},{"s":"K5v","w":445.5,"f":4.68},{"s":"K5v","w":450.2,"f":4.72},{"s":"K5v","w":454.7,"f":4.74},{"s":"K5v","w":459.2,"f":4.75},{"s":"K5v","w":463.4,"f":4.79},{"s":"K5v","w":468.3,"f":4.81},{"s":"K5v","w":472.6,"f":4.83},{"s":"K5v","w":477.4,"f":4.85},{"s":"K5v","w":481.9,"f":4.87},{"s":"K5v","w":486.3,"f":4.91},{"s":"K5v","w":491.1,"f":4.89},{"s":"K5v","w":495.4,"f":4.94},{"s":"K5v","w":502.5,"f":4.94},{"s":"K5v","w":509.0,"f":4.91},{"s":"K5v","w":513.4,"f":4.85},{"s":"K5v","w":515.5,"f":4.63},{"s":"K5v","w":517.7,"f":4.85},{"s":"K5v","w":522.6,"f":4.94},{"s":"K5v","w":529.6,"f":5.00},{"s":"K5v","w":538.9,"f":5.00},{"s":"K5v","w":549.7,"f":5.02},{"s":"K5v","w":556.8,"f":5.00},{"s":"K5v","w":568.7,"f":5.06},{"s":"K5v","w":578.5,"f":5.09},{"s":"K5v","w":584.5,"f":5.04},{"s":"K5v","w":588.0,"f":4.69},{"s":"K5v","w":590.4,"f":5.00},{"s":"K5v","w":598.5,"f":5.04},{"s":"K5v","w":611.1,"f":5.03},{"s":"K5v","w":625.7,"f":5.02},{"s":"K5v","w":643.6,"f":5.00},{"s":"K5v","w":652.9,"f":5.08},{"s":"K5v","w":656.3,"f":4.88},{"s":"K5v","w":658.3,"f":5.08},{"s":"K5v","w":665.4,"f":5.06},{"s":"K5v","w":677.3,"f":5.04},{"s":"K5v","w":684.3,"f":5.00},{"s":"K5v","w":686.5,"f":4.81},{"s":"K5v","w":688.7,"f":5.00},{"s":"K5v","w":701.7,"f":5.00},{"s":"K5v","w":712.6,"f":5.06},{"s":"K5v","w":716.4,"f":5.06},{"s":"K5v","w":719.7,"f":4.94},{"s":"K5v","w":728.9,"f":4.98},{"s":"K5v","w":742.5,"f":4.97},
{"s":"M0v","w":350.7,"f":3.13},{"s":"M0v","w":354.3,"f":3.15},{"s":"M0v","w":359.7,"f":3.13},{"s":"M0v","w":364.1,"f":3.16},{"s":"M0v","w":368.8,"f":3.16},{"s":"M0v","w":373.3,"f":3.11},{"s":"M0v","w":377.8,"f":3.13},{"s":"M0v","w":382.5,"f":3.16},{"s":"M0v","w":386.9,"f":3.16},{"s":"M0v","w":390.7,"f":3.11},{"s":"M0v","w":394.1,"f":3.13},{"s":"M0v","w":397.7,"f":3.22},{"s":"M0v","w":401.0,"f":3.26},{"s":"M0v","w":404.9,"f":3.28},{"s":"M0v","w":410.2,"f":3.30},{"s":"M0v","w":415.8,"f":3.31},{"s":"M0v","w":419.4,"f":3.30},{"s":"M0v","w":422.6,"f":3.16},{"s":"M0v","w":423.8,"f":3.25},{"s":"M0v","w":427.6,"f":3.30},{"s":"M0v","w":432.1,"f":3.35},{"s":"M0v","w":436.8,"f":3.41},{"s":"M0v","w":441.2,"f":3.47},{"s":"M0v","w":445.5,"f":3.50},{"s":"M0v","w":450.2,"f":3.53},{"s":"M0v","w":453.8,"f":3.63},{"s":"M0v","w":459.2,"f":3.72},{"s":"M0v","w":463.4,"f":3.75},{"s":"M0v","w":468.3,"f":3.75},{"s":"M0v","w":472.6,"f":3.71},{"s":"M0v","w":475.5,"f":3.69},{"s":"M0v","w":477.4,"f":3.56},{"s":"M0v","w":480.2,"f":3.65},{"s":"M0v","w":484.6,"f":3.71},{"s":"M0v","w":487.8,"f":3.76},{"s":"M0v","w":491.8,"f":3.81},{"s":"M0v","w":495.4,"f":3.73},{"s":"M0v","w":499.1,"f":3.65},{"s":"M0v","w":502.5,"f":3.69},{"s":"M0v","w":509.0,"f":3.65},{"s":"M0v","w":513.4,"f":3.61},{"s":"M0v","w":515.4,"f":3.44},{"s":"M0v","w":517.7,"f":3.63},{"s":"M0v","w":520.8,"f":3.78},{"s":"M0v","w":526.9,"f":3.84},{"s":"M0v","w":533.4,"f":3.90},{"s":"M0v","w":538.9,"f":3.92},{"s":"M0v","w":547.6,"f":3.95},{"s":"M0v","w":556.8,"f":3.99},{"s":"M0v","w":566.0,"f":4.06},{"s":"M0v","w":574.2,"f":4.16},{"s":"M0v","w":578.7,"f":4.19},{"s":"M0v","w":584.5,"f":4.16},{"s":"M0v","w":587.2,"f":4.12},{"s":"M0v","w":588.3,"f":3.43},{"s":"M0v","w":589.4,"f":3.43},{"s":"M0v","w":590.5,"f":4.08},{"s":"M0v","w":593.2,"f":4.12},{"s":"M0v","w":597.0,"f":4.16},{"s":"M0v","w":602.4,"f":4.21},{"s":"M0v","w":608.4,"f":4.25},{"s":"M0v","w":611.1,"f":4.21},{"s":"M0v","w":613.2,"f":4.10},{"s":"M0v","w":614.9,"f":3.99},{"s":"M0v","w":617.1,"f":4.10},{"s":"M0v","w":621.9,"f":4.01},{"s":"M0v","w":628.4,"f":4.08},{"s":"M0v","w":635.0,"f":4.16},{"s":"M0v","w":640.4,"f":4.25},{"s":"M0v","w":643.8,"f":4.29},{"s":"M0v","w":650.2,"f":4.36},{"s":"M0v","w":655.6,"f":4.44},{"s":"M0v","w":661.0,"f":4.35},{"s":"M0v","w":666.4,"f":4.29},{"s":"M0v","w":674.6,"f":4.19},{"s":"M0v","w":681.1,"f":4.10},{"s":"M0v","w":685.4,"f":3.94},{"s":"M0v","w":687.1,"f":3.82},{"s":"M0v","w":688.7,"f":4.06},{"s":"M0v","w":692.5,"f":4.25},{"s":"M0v","w":697.4,"f":4.33},{"s":"M0v","w":703.4,"f":4.35},{"s":"M0v","w":706.6,"f":4.40},{"s":"M0v","w":711.0,"f":4.19},{"s":"M0v","w":715.3,"f":4.25},{"s":"M0v","w":719.7,"f":4.31},{"s":"M0v","w":725.1,"f":4.41},{"s":"M0v","w":731.6,"f":4.42},{"s":"M0v","w":737.0,"f":4.40},{"s":"M0v","w":742.5,"f":4.43},
{"s":"M5v","w":350.7,"f":0.13},{"s":"M5v","w":354.3,"f":0.11},{"s":"M5v","w":359.7,"f":0.10},{"s":"M5v","w":364.1,"f":0.15},{"s":"M5v","w":368.8,"f":0.13},{"s":"M5v","w":373.3,"f":0.17},{"s":"M5v","w":377.8,"f":0.16},{"s":"M5v","w":382.5,"f":0.15},{"s":"M5v","w":386.9,"f":0.16},{"s":"M5v","w":390.7,"f":0.19},{"s":"M5v","w":394.1,"f":0.19},{"s":"M5v","w":396.6,"f":0.26},{"s":"M5v","w":399.5,"f":0.28},{"s":"M5v","w":403.1,"f":0.28},{"s":"M5v","w":408.6,"f":0.28},{"s":"M5v","w":412.9,"f":0.28},{"s":"M5v","w":417.6,"f":0.25},{"s":"M5v","w":420.0,"f":0.22},{"s":"M5v","w":422.1,"f":0.09},{"s":"M5v","w":424.9,"f":0.19},{"s":"M5v","w":428.1,"f":0.26},{"s":"M5v","w":432.1,"f":0.32},{"s":"M5v","w":436.8,"f":0.39},{"s":"M5v","w":441.2,"f":0.44},{"s":"M5v","w":445.0,"f":0.50},{"s":"M5v","w":448.4,"f":0.57},{"s":"M5v","w":452.0,"f":0.62},{"s":"M5v","w":455.6,"f":0.66},{"s":"M5v","w":459.1,"f":0.67},{"s":"M5v","w":462.9,"f":0.69},{"s":"M5v","w":466.7,"f":0.71},{"s":"M5v","w":470.1,"f":0.72},{"s":"M5v","w":472.6,"f":0.77},{"s":"M5v","w":474.6,"f":0.79},{"s":"M5v","w":475.5,"f":0.50},{"s":"M5v","w":477.5,"f":0.60},{"s":"M5v","w":480.9,"f":0.57},{"s":"M5v","w":484.6,"f":0.64},{"s":"M5v","w":488.2,"f":0.69},{"s":"M5v","w":491.1,"f":0.84},{"s":"M5v","w":493.7,"f":1.07},{"s":"M5v","w":495.4,"f":0.54},{"s":"M5v","w":497.1,"f":0.65},{"s":"M5v","w":499.1,"f":0.73},{"s":"M5v","w":503.6,"f":0.79},{"s":"M5v","w":507.4,"f":0.84},{"s":"M5v","w":511.7,"f":0.88},{"s":"M5v","w":514.4,"f":0.92},{"s":"M5v","w":516.2,"f":0.50},{"s":"M5v","w":517.7,"f":0.88},{"s":"M5v","w":519.9,"f":1.07},{"s":"M5v","w":523.7,"f":1.03},{"s":"M5v","w":529.8,"f":1.19},{"s":"M5v","w":533.4,"f":1.16},{"s":"M5v","w":537.8,"f":1.31},{"s":"M5v","w":542.5,"f":1.50},{"s":"M5v","w":544.3,"f":0.94},{"s":"M5v","w":547.0,"f":1.07},{"s":"M5v","w":549.7,"f":1.01},{"s":"M5v","w":553.4,"f":1.13},{"s":"M5v","w":557.3,"f":0.97},{"s":"M5v","w":562.4,"f":1.00},{"s":"M5v","w":566.0,"f":1.14},{"s":"M5v","w":569.6,"f":1.19},{"s":"M5v","w":574.2,"f":1.35},{"s":"M5v","w":578.7,"f":1.50},{"s":"M5v","w":581.2,"f":1.29},{"s":"M5v","w":584.1,"f":1.19},{"s":"M5v","w":586.6,"f":0.97},{"s":"M5v","w":588.6,"f":0.44},{"s":"M5v","w":590.4,"f":0.69},{"s":"M5v","w":593.2,"f":0.88},{"s":"M5v","w":597.5,"f":0.97},{"s":"M5v","w":602.2,"f":1.13},{"s":"M5v","w":606.7,"f":1.29},{"s":"M5v","w":610.0,"f":1.40},{"s":"M5v","w":613.1,"f":1.47},{"s":"M5v","w":614.9,"f":1.25},{"s":"M5v","w":616.7,"f":0.94},{"s":"M5v","w":619.2,"f":0.84},{"s":"M5v","w":622.1,"f":0.69},{"s":"M5v","w":625.7,"f":0.79},{"s":"M5v","w":629.4,"f":1.19},{"s":"M5v","w":632.8,"f":1.44},{"s":"M5v","w":636.6,"f":1.69},{"s":"M5v","w":640.4,"f":1.91},{"s":"M5v","w":643.8,"f":2.00},{"s":"M5v","w":647.4,"f":2.28},{"s":"M5v","w":650.7,"f":2.56},{"s":"M5v","w":652.9,"f":2.75},{"s":"M5v","w":655.0,"f":2.47},{"s":"M5v","w":658.3,"f":2.25},{"s":"M5v","w":661.6,"f":2.04},{"s":"M5v","w":665.5,"f":1.75},{"s":"M5v","w":668.1,"f":1.44},{"s":"M5v","w":670.9,"f":1.25},{"s":"M5v","w":674.6,"f":1.29},{"s":"M5v","w":677.8,"f":1.40},{"s":"M5v","w":680.0,"f":1.44},{"s":"M5v","w":682.7,"f":1.25},{"s":"M5v","w":685.4,"f":1.07},{"s":"M5v","w":687.1,"f":1.07},{"s":"M5v","w":689.1,"f":1.57},{"s":"M5v","w":692.0,"f":2.00},{"s":"M5v","w":696.3,"f":2.56},{"s":"M5v","w":700.1,"f":3.13},{"s":"M5v","w":703.5,"f":3.63},{"s":"M5v","w":704.4,"f":2.94},{"s":"M5v","w":705.3,"f":2.19},{"s":"M5v","w":707.2,"f":2.47},{"s":"M5v","w":708.8,"f":2.00},{"s":"M5v","w":710.8,"f":2.25},{"s":"M5v","w":712.6,"f":1.44},{"s":"M5v","w":714.2,"f":1.72},{"s":"M5v","w":718.0,"f":1.88},{"s":"M5v","w":720.7,"f":2.10},{"s":"M5v","w":725.2,"f":2.94},{"s":"M5v","w":728.9,"f":3.41},{"s":"M5v","w":732.5,"f":3.63},{"s":"M5v","w":735.4,"f":3.78},{"s":"M5v","w":738.7,"f":3.97},{"s":"M5v","w":741.5,"f":4.13}
],
"marks": [
{"w":475.5,"f1":0.82,"f2":1.32},{"w":496.3,"f1":1.25,"f2":1.82},{"w":518.1,"f1":1.44,"f2":1.97},{"w":545.2,"f1":1.75,"f2":2.32}
],
"labels": [
{"s":"O5v","f":19.86},{"s":"B0v","f":17.72},{"s":"B5v","f":13.70},{"s":"A1v","f":11.99},{"s":"A5v","f":10.87},{"s":"F0v","f":9.80},{"s":"F5v","f":8.68},{"s":"G0v","f":7.63},{"s":"G4v","f":6.46},{"s":"K0v","f":5.40},{"s":"K5v","f":4.11},{"s":"M0v","f":3.17},{"s":"M5v","f":0.13}
],
"big": [
{"t":"main","w":606,"f":18.77},{"t":"sequence","w":606,"f":16.33},{"t":"ns","w":229.4,"f":17.59}
]
},
"layer": [
{
"data": {"name": "spectra"},
"mark": {"type": "line", "color": "black", "strokeWidth": 1.9},
"encoding": {
"x": {"field": "w", "type": "quantitative", "scale": {"domain": [300, 748], "nice": false, "zero": false},
"axis": {"orient": "bottom", "values": [300,320,340,360,380,400,420,440,460,480,500,520,540,560,580,600,620,640,660,680,700,720,740], "tickSize": {"condition": {"test": "datum.value % 100 === 0", "value": -26}, "value": -13}, "labelPadding": 39, "labelExpr": "datum.value % 100 === 0 ? '' + datum.value : ''", "labelFlush": false, "labelOverlap": false, "title": "Wavelength (nm)", "titlePadding": -5}},
"y": {"field": "f", "type": "quantitative", "scale": {"domain": [-1, 21], "nice": false, "zero": false},
"axis": {"orient": "left", "values": [-0.5,0,0.5,1,1.5,2,2.5,3,3.5,4,4.5,5,5.5,6,6.5,7,7.5,8,8.5,9,9.5,10,10.5,11,11.5,12,12.5,13,13.5,14,14.5,15,15.5,16,16.5,17,17.5,18,18.5,19,19.5,20,20.5], "tickSize": {"condition": {"test": "datum.value % 2 === 0", "value": -26}, "value": -13}, "labelPadding": 47, "labelExpr": "datum.value % 2 === 0 ? '' + datum.value : ''", "labelOverlap": false, "title": "Normalized Flux (Fλ) + Constant", "titlePadding": 24}},
"detail": {"field": "s", "type": "nominal"}
}
},
{
"data": {"name": "marks"},
"mark": {"type": "rule", "color": "#9a9a9a", "strokeWidth": 2},
"encoding": {
"x": {"field": "w", "type": "quantitative", "scale": {"domain": [300, 748], "nice": false, "zero": false},
"axis": {"orient": "top", "values": [300,320,340,360,380,400,420,440,460,480,500,520,540,560,580,600,620,640,660,680,700,720,740], "tickSize": {"condition": {"test": "datum.value % 100 === 0", "value": -26}, "value": -13}, "labels": false, "title": null}},
"y": {"field": "f1", "type": "quantitative", "scale": {"domain": [-1, 21], "nice": false, "zero": false},
"axis": {"orient": "right", "values": [-0.5,0,0.5,1,1.5,2,2.5,3,3.5,4,4.5,5,5.5,6,6.5,7,7.5,8,8.5,9,9.5,10,10.5,11,11.5,12,12.5,13,13.5,14,14.5,15,15.5,16,16.5,17,17.5,18,18.5,19,19.5,20,20.5], "tickSize": {"condition": {"test": "datum.value % 2 === 0", "value": -26}, "value": -13}, "labels": false, "title": null}},
"y2": {"field": "f2"}
}
},
{
"data": {"name": "labels"},
"mark": {"type": "text", "align": "right", "baseline": "middle", "font": "Liberation Sans", "fontSize": 33, "color": "#1a1a1a"},
"encoding": {
"x": {"datum": 347, "type": "quantitative", "scale": {"domain": [300, 748], "nice": false, "zero": false}, "axis": null},
"y": {"field": "f", "type": "quantitative", "scale": {"domain": [-1, 21], "nice": false, "zero": false}, "axis": null},
"text": {"field": "s"}
}
},
{
"data": {"name": "big"},
"mark": {"type": "text", "align": "center", "baseline": "alphabetic", "font": "Lato", "fontSize": 100, "color": "black"},
"encoding": {
"x": {"field": "w", "type": "quantitative", "scale": {"domain": [300, 748], "nice": false, "zero": false}, "axis": null},
"y": {"field": "f", "type": "quantitative", "scale": {"domain": [-1, 21], "nice": false, "zero": false}, "axis": null},
"text": {"field": "t"}
}
}
],
"resolve": {"axis": {"x": "independent", "y": "independent"}}
}
